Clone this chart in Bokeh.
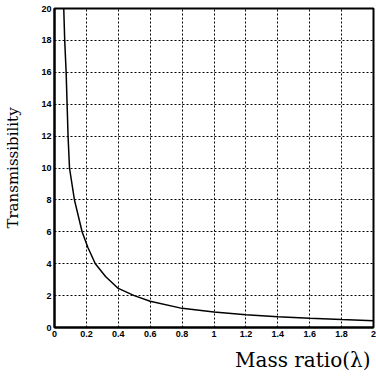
from bokeh.plotting import figure
from bokeh.models import Title, FixedTicker, Range1d
from bokeh.embed import file_html
from bokeh.resources import INLINE

mass_ratio = [0.058, 0.064, 0.073, 0.079, 0.085, 0.094, 0.125, 0.173, 0.21, 0.256,
              0.32, 0.40, 0.50, 0.60, 0.80, 1.00, 1.20, 1.40, 1.60, 1.80, 2.00]
transmissibility = [20.0, 18.0, 16.0, 14.0, 12.0, 10.0, 8.0, 6.0, 5.0, 4.0,
                    3.2, 2.45, 2.0, 1.65, 1.2, 0.97, 0.8, 0.68, 0.58, 0.5, 0.43]
x_ticks = [0, 0.2, 0.4, 0.6, 0.8, 1.0, 1.2, 1.4, 1.6, 1.8, 2.0]
x_tick_labels = ["0", "0.2", "0.4", "0.6", "0.8", "1", "1.2", "1.4", "1.6", "1.8", "2"]
y_ticks = [0, 2, 4, 6, 8, 10, 12, 14, 16, 18, 20]

p = figure(width=376, height=377, output_backend="svg", toolbar_location=None,
           x_range=Range1d(0, 2), y_range=Range1d(0, 20),
           min_border_left=54, min_border_right=3, min_border_top=8, min_border_bottom=49)
p.line(mass_ratio, transmissibility, line_color="black", line_width=1.5)

p.xaxis.ticker = FixedTicker(ticks=x_ticks)
p.xaxis.major_label_overrides = {t: l for t, l in zip(x_ticks, x_tick_labels)}
p.yaxis.ticker = FixedTicker(ticks=y_ticks)
for ax in (p.xaxis, p.yaxis):
    ax.axis_line_color = "black"
    ax.axis_line_width = 2
    ax.major_tick_in = 0
    ax.major_tick_out = 0
    ax.minor_tick_line_color = None
    ax.major_label_text_font = "Liberation Sans"
    ax.major_label_text_font_style = "bold"
    ax.major_label_text_font_size = "9px"
    ax.major_label_text_color = "black"
    ax.major_label_standoff = 3

p.yaxis.axis_label = "Transmissibility"
p.yaxis.axis_label_text_font = "DejaVu Serif"
p.yaxis.axis_label_text_font_style = "normal"
p.yaxis.axis_label_text_font_size = "15px"
p.yaxis.axis_label_text_color = "black"
p.yaxis.axis_label_standoff = 16

p.outline_line_color = "black"
p.outline_line_width = 2
p.grid.grid_line_color = "black"
p.grid.grid_line_dash = "2 2"
p.grid.grid_line_width = 1
p.grid.grid_line_alpha = 1.0

p.add_layout(Title(text="Mass ratio(λ)", align="right", offset=3,
                   text_font="DejaVu Serif", text_font_size="20px",
                   text_font_style="normal", text_color="black", standoff=12), "below")

open("out.html", "w").write(file_html(p, INLINE))
